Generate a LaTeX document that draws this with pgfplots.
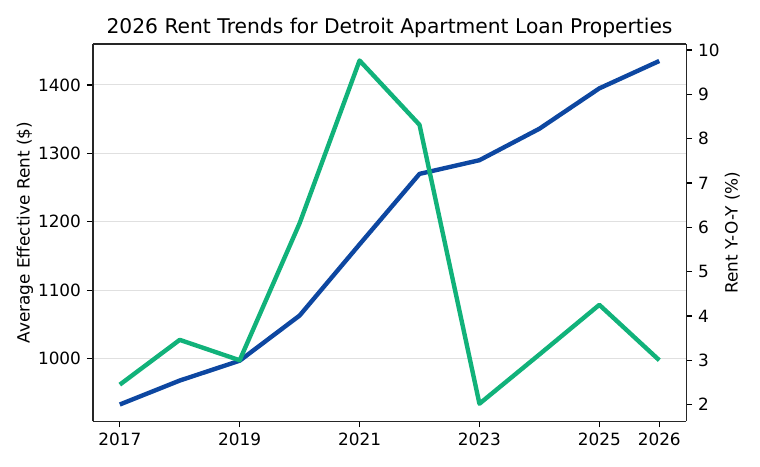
\documentclass[border=0pt]{standalone}
\usepackage{fontspec}
\setmainfont{DejaVu Sans}
\usepackage{pgfplots}
\pgfplotsset{compat=1.18}

\definecolor{rentblue}{RGB}{13,71,161}
\definecolor{yoygreen}{RGB}{17,178,122}
\definecolor{gridgray}{RGB}{224,224,224}

\begin{document}
\begin{tikzpicture}
\pgfplotsset{
  every axis/.append style={
    scale only axis,
    width=351.6pt, height=223.6pt,
    at={(0,0)}, anchor=south west,
    xmin=2016.55, xmax=2026.45,
    /pgf/number format/assume math mode=true,
    /pgf/number format/1000 sep={},
    tick align=outside,
    major tick length=3.5pt,
    every tick/.style={black, line width=0.8pt},
    axis line style={line width=0.8pt, black!85},
    tick label style={font=\fontsize{10}{12}\selectfont},
    label style={font=\fontsize{10}{12}\selectfont},
  }
}
\path[use as bounding box] (-55pt,-26.8pt) rectangle (395.3pt,249.6pt);

\begin{axis}[
  axis y line*=left,
  axis x line*=box,
  xtick pos=bottom,
  ytick pos=left,
  xtick={2017,2019,2021,2023,2025,2026},
  ymin=908.5, ymax=1460,
  ytick={1000,1100,1200,1300,1400},
  ymajorgrids,
  y grid style={gridgray, line width=0.6pt},
  ylabel={Average Effective Rent (\$)},
  ylabel style={at={(axis description cs:-0.1143,0.5)}, anchor=center},
  title={2026 Rent Trends for Detroit Apartment Loan Properties},
  title style={font=\fontsize{12}{14}\selectfont, at={(axis description cs:0.5,1)}, anchor=base, yshift=0pt},
]
\addplot [rentblue, line width=2.6pt, line join=round] coordinates {
(2017,933) (2018,968) (2019,997) (2020,1063) (2021,1167)
(2022,1270) (2023,1290) (2024,1336) (2025,1395) (2026,1435)
};
\end{axis}

\begin{axis}[
  axis y line*=right,
  axis x line=none,
  ymin=1.624, ymax=10.135,
  ytick={2,3,4,5,6,7,8,9,10},
  ylabel={Rent Y-O-Y (\%)},
  ylabel style={at={(axis description cs:1.0775,0.5)}, anchor=center, rotate=0},
]
\addplot [yoygreen, line width=2.6pt, line join=round] coordinates {
(2017,2.45) (2018,3.46) (2019,3.0) (2020,6.09) (2021,9.76)
(2022,8.31) (2023,2.02) (2024,3.13) (2025,4.25) (2026,3.0)
};
\end{axis}
\end{tikzpicture}
\end{document}
